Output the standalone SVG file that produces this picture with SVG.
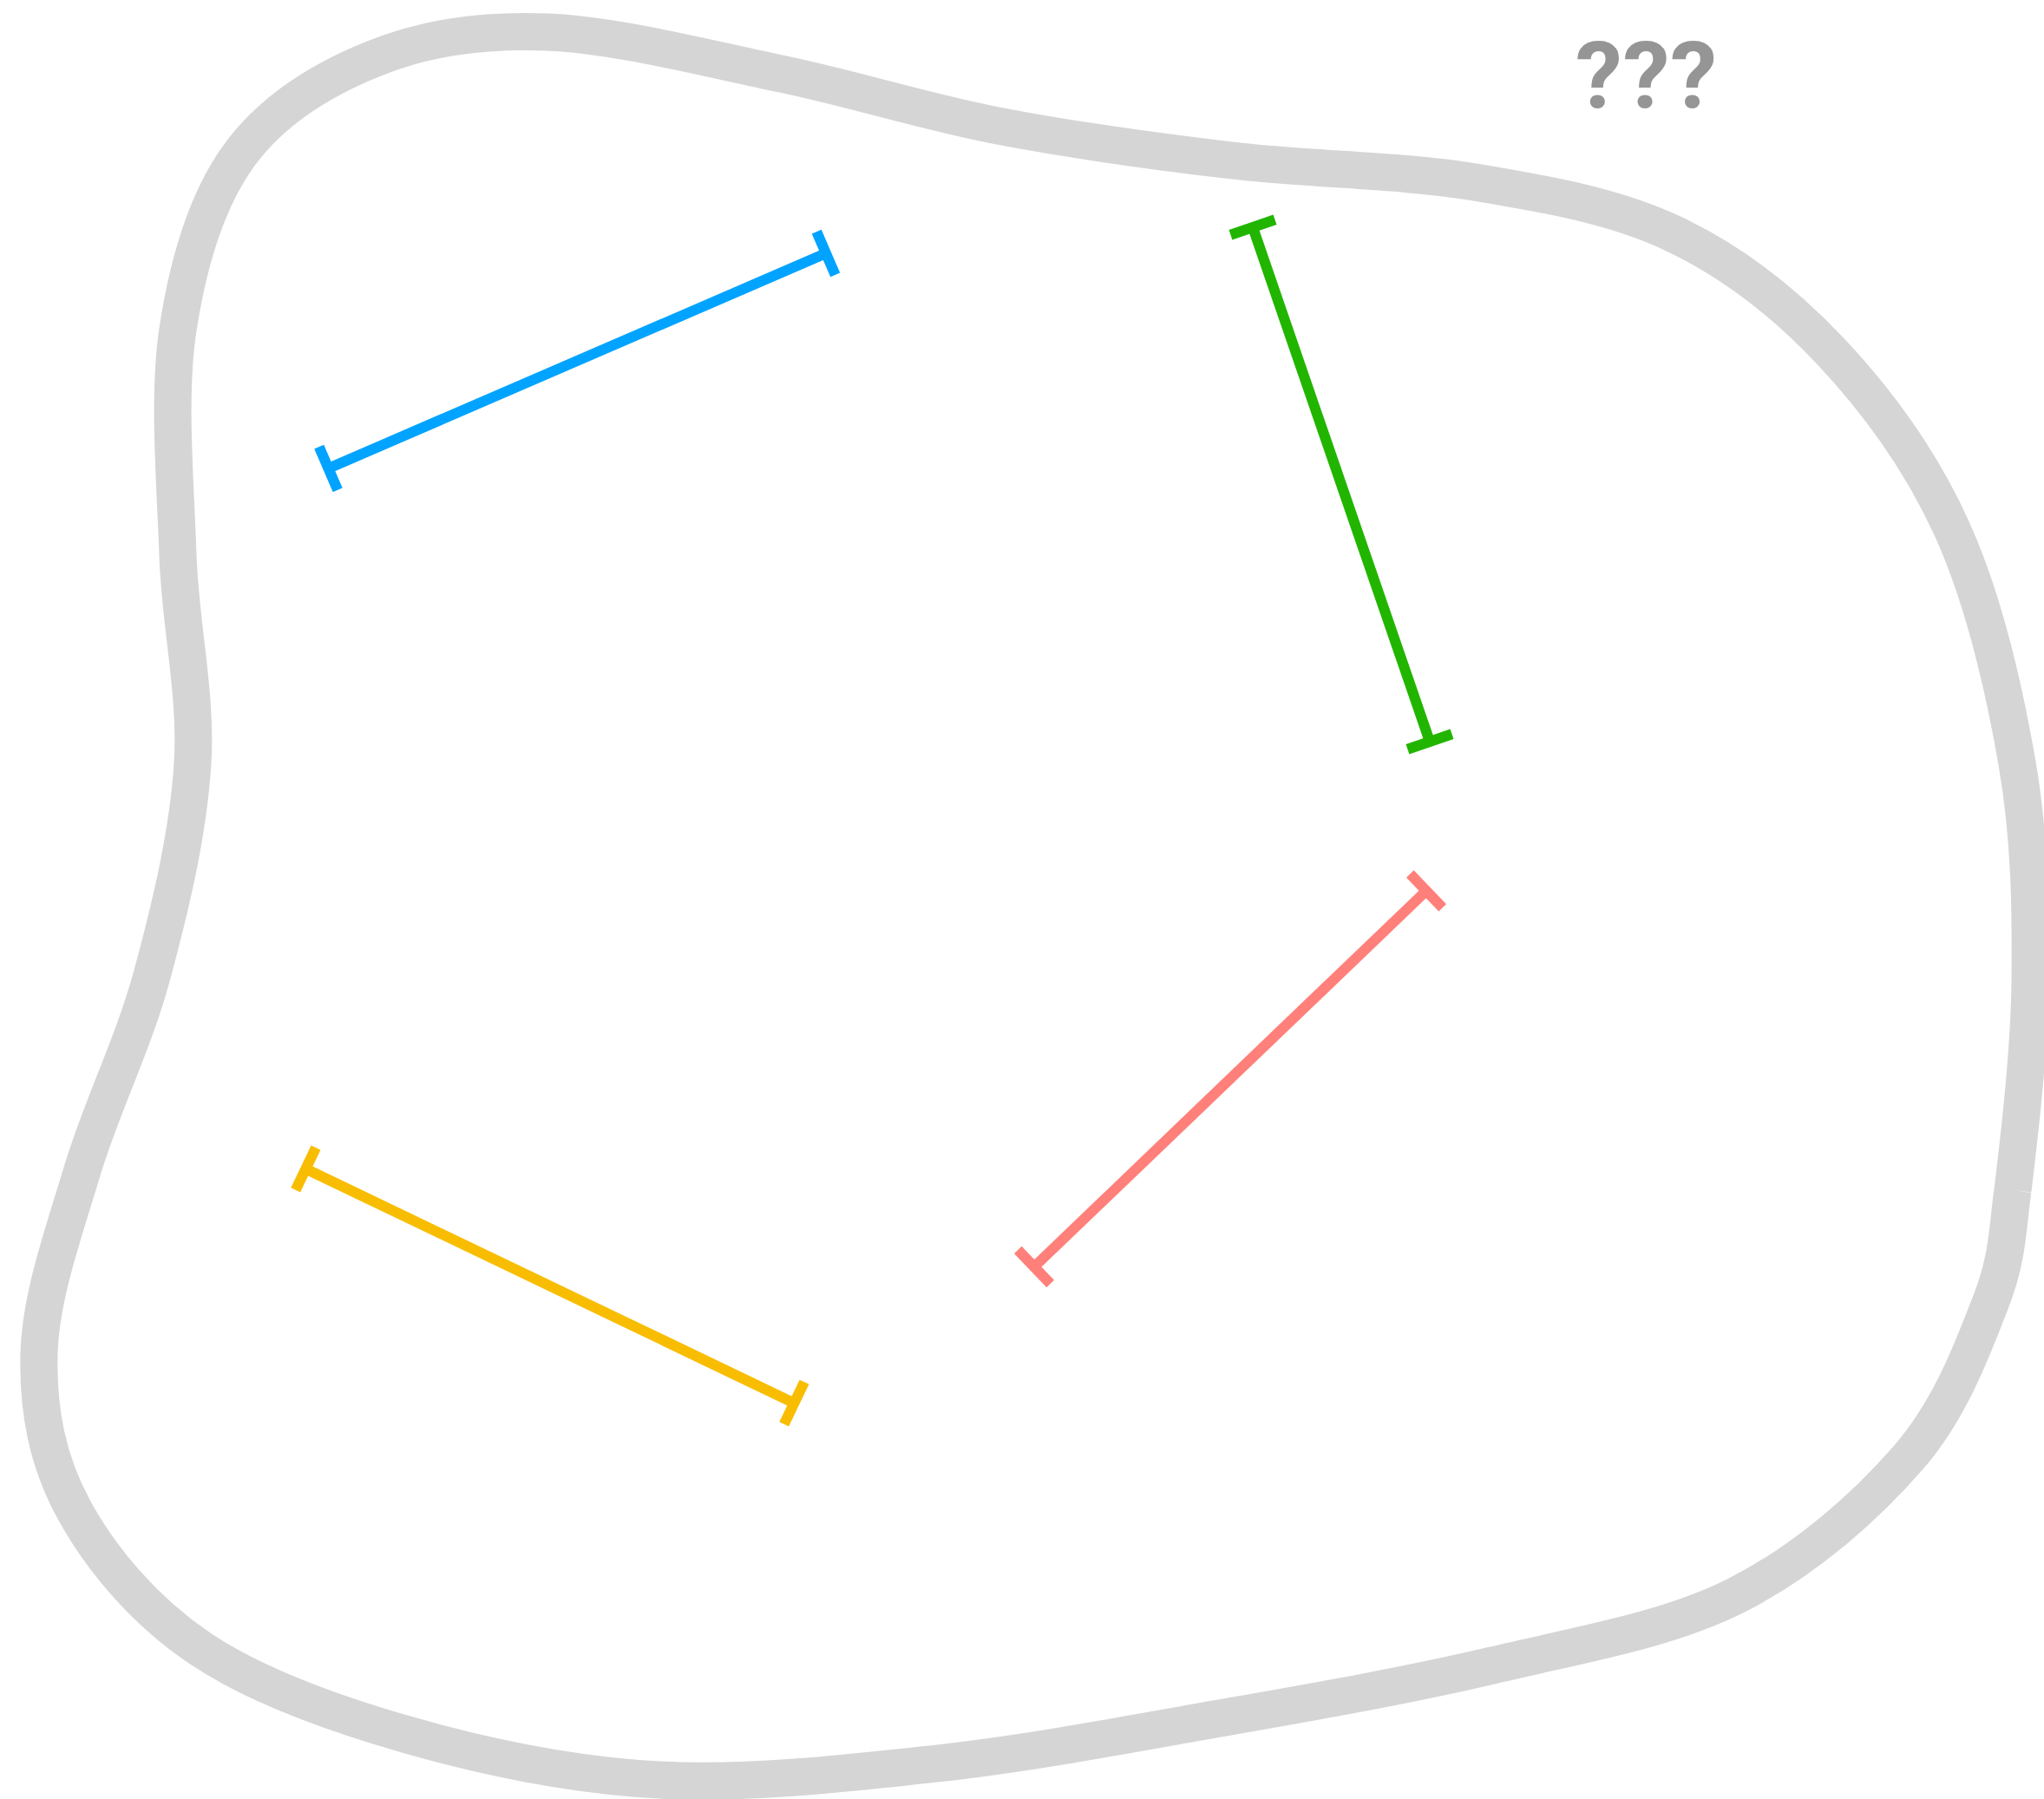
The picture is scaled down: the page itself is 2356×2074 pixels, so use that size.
<svg xmlns="http://www.w3.org/2000/svg" width="2356" height="2074" viewBox="0 0 2356 2074">
<style>
.blob{fill:none;stroke:#d5d5d5;stroke-width:43;stroke-linejoin:round}
.dim{fill:none;stroke-width:12}
.q{font-family:Roboto,"Liberation Sans",sans-serif;font-weight:bold;font-size:108px;fill:#959595;letter-spacing:1px}
</style>
<defs>
<marker id="tBlue" markerUnits="userSpaceOnUse" viewBox="-30 -30 60 60" markerWidth="60" markerHeight="60" refX="0" refY="0" orient="auto"><path d="M0,-27V27" stroke="#00a3ff" stroke-width="12"/></marker>
<marker id="tGreen" markerUnits="userSpaceOnUse" viewBox="-30 -30 60 60" markerWidth="60" markerHeight="60" refX="0" refY="0" orient="auto"><path d="M0,-27V27" stroke="#22b500" stroke-width="12"/></marker>
<marker id="tYellow" markerUnits="userSpaceOnUse" viewBox="-30 -30 60 60" markerWidth="60" markerHeight="60" refX="0" refY="0" orient="auto"><path d="M0,-27V27" stroke="#f8bd00" stroke-width="12"/></marker>
<marker id="tRed" markerUnits="userSpaceOnUse" viewBox="-30 -30 60 60" markerWidth="60" markerHeight="60" refX="0" refY="0" orient="auto"><path d="M0,-27V27" stroke="#ff807a" stroke-width="12"/></marker>
</defs>
<rect width="2356" height="2074" fill="#ffffff"/>
<g id="blob">
<path class="blob" d="M2320,1372 C2327.5,1310.3 2339.2,1212 2340,1130 C2340.8,1048 2340,966.7 2325,880 C2310,793.3 2285.8,689.2 2250,610 C2214.2,530.8 2163.3,461.7 2110,405 C2056.7,348.3 1998.3,302.5 1930,270 C1861.7,237.5 1785,224.2 1700,210 C1615,195.8 1511.7,195.8 1420,185 C1328.3,174.2 1236.7,161.7 1150,145 C1063.3,128.3 986.7,103 900,85 C813.3,67 708.3,39.8 630,37 C551.7,34.2 489.2,44.2 430,68 C370.8,91.8 312.5,128 275,180 C237.5,232 216.7,303.3 205,380 C193.3,456.7 202.2,556.7 205,640 C207.8,723.3 227,799.2 222,880 C217,960.8 196.2,1046.8 175,1125 C153.8,1203.2 116.7,1276.5 95,1349 C73.3,1421.5 46.7,1494.8 45,1560 C43.3,1625.2 54.2,1683.3 85,1740 C115.8,1796.7 165.8,1856.7 230,1900 C294.2,1943.3 381.7,1974.7 470,2000 C558.3,2025.3 658.3,2046.5 760,2052 C861.7,2057.5 973.3,2044.7 1080,2033 C1186.7,2021.3 1293.3,2000.8 1400,1982 C1506.7,1963.2 1620,1943.7 1720,1920 C1820,1896.3 1920,1880 2000,1840 C2080,1800 2150.8,1736.7 2200,1680 C2249.2,1623.3 2275,1551.3 2295,1500 C2315,1448.7 2314,1414 2320,1372"/>
</g>
<g id="label">
<text class="q" x="1898" y="124" text-anchor="middle">???</text>
</g>
<g id="connectors">
<line id="blue" class="dim" x1="378.5" y1="540" x2="952" y2="292" stroke="#00a3ff" marker-start="url(#tBlue)" marker-end="url(#tBlue)"/>
<line id="green" class="dim" x1="1444" y1="262" x2="1648" y2="855" stroke="#22b500" marker-start="url(#tGreen)" marker-end="url(#tGreen)"/>
<line id="yellow" class="dim" x1="352.4" y1="1347.5" x2="915.4" y2="1617.6" stroke="#f8bd00" marker-start="url(#tYellow)" marker-end="url(#tYellow)"/>
<line id="red" class="dim" x1="1192" y1="1460.5" x2="1644" y2="1027" stroke="#ff807a" marker-start="url(#tRed)" marker-end="url(#tRed)"/>
</g>
</svg>
